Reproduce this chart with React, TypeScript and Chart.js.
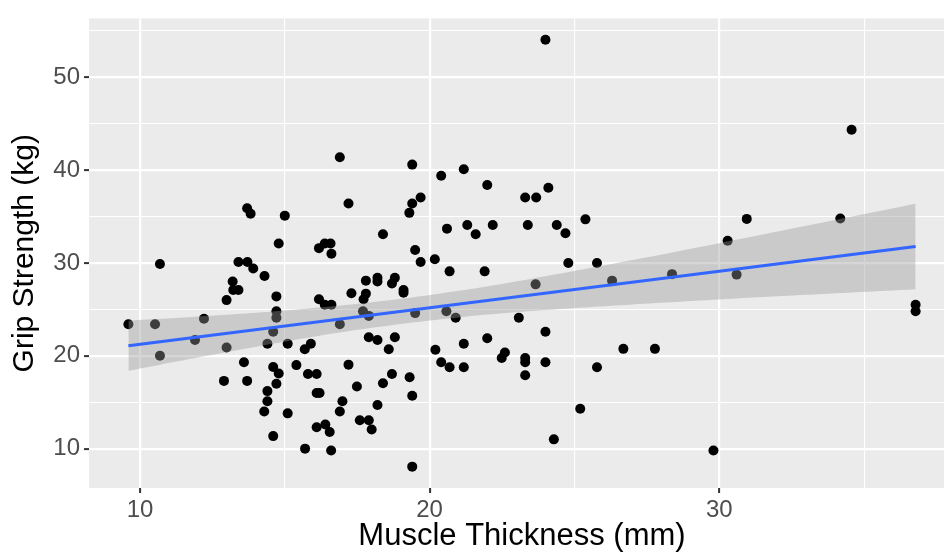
import React, { useEffect, useRef } from 'react';
import { Chart, registerables } from 'chart.js';

Chart.register(...registerables);

// Scatter data: muscle thickness (mm) vs grip strength (kg)
const muscleThickness = [
  9.6, 10.52, 10.69, 10.69, 11.9, 12.21, 12.9, 12.99, 12.99, 13.2,
  13.22, 13.4, 13.4, 13.59, 13.7, 13.71, 13.7, 13.82, 13.91, 14.29,
  14.3, 14.4, 14.4, 14.4, 14.6, 14.6, 14.6, 14.71, 14.71, 14.71,
  14.71, 14.79, 14.79, 15.0, 15.1, 15.1, 15.4, 15.69, 15.7, 15.8,
  15.9, 16.1, 16.1, 16.2, 16.1, 16.18, 16.38, 16.58, 16.61, 16.18,
  16.38, 16.61, 16.4, 16.55, 16.6,
  16.9, 16.9, 16.99, 16.9, 17.2, 17.2, 17.3, 17.49, 17.59, 17.7,
  17.72, 17.8, 17.8, 17.9, 17.9, 17.9, 18.0, 18.2, 18.2, 18.2,
  18.2, 18.39, 18.39, 18.59, 18.7, 18.8, 18.7, 18.8, 19.1, 19.1,
  19.3, 19.31, 19.4, 19.4, 19.4, 19.4, 19.5, 19.5, 19.69, 19.69,
  20.18, 20.2, 20.4, 20.4, 20.58, 20.6, 20.69, 20.69, 20.9, 21.18,
  21.18, 21.18, 21.3, 21.59, 21.9, 21.99, 21.99, 22.18, 22.49, 22.6,
  23.08, 23.3, 23.3, 23.3, 23.3, 23.39, 23.68, 23.66, 24.0, 24.0,
  24.0, 24.1, 24.29, 24.39, 24.69, 24.79, 25.2, 25.38, 25.78, 25.78,
  26.3, 26.69, 27.78, 28.37, 29.8, 30.29, 30.6, 30.95, 34.18, 34.57,
  36.78, 36.78,
];

const gripStrength = [
  23.4, 23.4, 29.9, 20.0, 21.7, 24.0, 17.3, 26.0, 20.9, 28.0,
  27.1, 27.1, 30.1, 19.3, 17.3, 30.1, 35.9, 35.3, 29.4, 14.0,
  28.6, 21.3, 16.2, 15.1, 22.6, 18.8, 11.35, 26.4, 24.8, 24.1,
  17.0, 32.1, 18.1, 35.1, 21.3, 13.8, 19.0, 20.7, 10.0, 18.05,
  21.3, 18.05, 16.0, 16.0, 12.3, 31.6, 32.1, 32.1, 31.0, 26.1,
  25.5, 25.5, 12.6, 11.8, 9.8,
  41.4, 23.4, 15.1, 14.0, 36.4, 19.05, 26.75, 16.7, 13.06, 24.8,
  26.1, 26.7, 28.1, 24.3, 22.0, 13.06, 12.06, 28.4, 28.0, 21.7,
  14.7, 33.1, 17.05, 20.7, 27.8, 28.4, 18.05, 22.0, 27.1, 26.8,
  35.4, 17.7, 40.6, 36.4, 15.7, 8.06, 31.4, 24.6, 37.05, 30.1,
  30.4, 20.65, 39.4, 19.3, 24.8, 33.7, 29.1, 18.76, 24.1, 40.1,
  21.3, 18.76, 34.1, 33.1, 29.1, 38.4, 21.9, 34.1, 19.76, 20.36,
  24.1, 37.05, 19.76, 19.3, 17.9, 34.1, 37.05, 27.7, 54.05, 22.6,
  19.3, 38.1, 11.0, 34.1, 33.2, 30.0, 14.3, 34.7, 30.0, 18.76,
  28.1, 20.75, 20.75, 28.8, 9.8, 32.4, 28.75, 34.75, 34.8, 44.35,
  25.5, 24.8,
];

// Fitted regression line
const fitX = [9.6, 36.78];
const fitY = [21.08, 31.78];

// Confidence band
const bandX = [9.6, 12, 15, 18, 21, 24, 27, 30, 33, 36.78];
const bandLower = [18.38, 19.82, 21.52, 23.02, 24.14, 24.93, 25.54, 26.08, 26.58, 27.18];
const bandUpper = [23.78, 24.23, 24.88, 25.76, 27.0, 28.58, 30.32, 32.14, 34.0, 36.38];

// Axes
const xTickValues = [10, 15, 20, 25, 30, 35];
const yTickValues = [10, 15, 20, 25, 30, 35, 40, 45, 50, 55];
const xLimits = [8.24, 38.14];
const yLimits = [5.76, 56.35];
const xTitle = 'Muscle Thickness (mm)';
const yTitle = 'Grip Strength (kg)';

const FONT = "'Liberation Sans', Arial, Helvetica, sans-serif";

const panelBackground = {
  id: 'panelBackground',
  beforeDraw(chart: any) {
    const { ctx, chartArea: a } = chart;
    ctx.save();
    ctx.fillStyle = '#EBEBEB';
    ctx.fillRect(a.left, a.top, a.right - a.left, a.bottom - a.top);
    ctx.restore();
  },
};

const isMajor = (v: number) => Math.abs(v % 10) < 1e-9;

export default function App() {
  const canvasRef = useRef<HTMLCanvasElement | null>(null);

  useEffect(() => {
    if (!canvasRef.current) return;
    const points = muscleThickness.map((x, i) => ({ x, y: gripStrength[i] }));
    const fit = fitX.map((x, i) => ({ x, y: fitY[i] }));
    const lower = bandX.map((x, i) => ({ x, y: bandLower[i] }));
    const upper = bandX.map((x, i) => ({ x, y: bandUpper[i] }));

    const gridCommon = {
      color: '#FFFFFF',
      lineWidth: (c: any) => (c.tick && isMajor(c.tick.value) ? 2.2 : 1.1),
      tickColor: (c: any) => (c.tick && isMajor(c.tick.value) ? '#333333' : 'rgba(0,0,0,0)'),
      tickLength: 5,
      tickWidth: 2,
    };

    const chart = new Chart(canvasRef.current, {
      type: 'scatter',
      data: {
        datasets: [
          {
            type: 'line',
            label: 'fit',
            data: fit,
            borderColor: '#3366FF',
            borderWidth: 3,
            pointRadius: 0,
            fill: false,
            order: 0,
          } as any,
          {
            type: 'line',
            label: 'lower',
            data: lower,
            borderWidth: 0,
            borderColor: 'rgba(0,0,0,0)',
            pointRadius: 0,
            fill: false,
            tension: 0.4,
            order: 1,
          } as any,
          {
            type: 'line',
            label: 'upper',
            data: upper,
            borderWidth: 0,
            borderColor: 'rgba(0,0,0,0)',
            backgroundColor: 'rgba(153,153,153,0.4)',
            pointRadius: 0,
            fill: '-1',
            tension: 0.4,
            order: 1,
          } as any,
          {
            type: 'scatter',
            label: 'points',
            data: points,
            backgroundColor: '#000000',
            borderWidth: 0,
            pointRadius: 5,
            order: 2,
          } as any,
        ],
      },
      options: {
        animation: false,
        responsive: false,
        devicePixelRatio: 1,
        layout: { padding: { top: 15, right: 4, left: 0, bottom: 0 } },
        plugins: {
          legend: { display: false },
          tooltip: { enabled: false },
        },
        scales: {
          x: {
            type: 'linear',
            min: xLimits[0],
            max: xLimits[1],
            afterBuildTicks: (axis: any) => {
              axis.ticks = xTickValues.map((v) => ({ value: v }));
            },
            afterFit: (scale: any) => {
              scale.height = 68;
            },
            border: { display: false },
            grid: gridCommon as any,
            ticks: {
              autoSkip: false,
              maxRotation: 0,
              padding: 3,
              color: '#4D4D4D',
              font: { family: FONT, size: 24 },
              callback: (v: any) => (isMajor(Number(v)) ? String(v) : ''),
            },
            title: {
              display: true,
              text: xTitle,
              color: '#000000',
              font: { family: FONT, size: 31 },
              padding: { top: 0, bottom: 1 },
            },
          },
          y: {
            type: 'linear',
            min: yLimits[0],
            max: yLimits[1],
            afterBuildTicks: (axis: any) => {
              axis.ticks = yTickValues.map((v) => ({ value: v }));
            },
            afterFit: (scale: any) => {
              scale.width = 89;
            },
            border: { display: false },
            grid: gridCommon as any,
            ticks: {
              autoSkip: false,
              padding: 4,
              color: '#4D4D4D',
              font: { family: FONT, size: 24 },
              callback: (v: any) => (isMajor(Number(v)) ? String(v) : ''),
            },
            title: {
              display: true,
              text: yTitle,
              color: '#000000',
              font: { family: FONT, size: 30 },
              padding: { top: 7, bottom: 0 },
            },
          },
        },
      } as any,
      plugins: [panelBackground],
    });

    return () => chart.destroy();
  }, []);

  return (
    <div
      style={{
        position: 'absolute',
        left: 0,
        top: 0,
        width: 944,
        height: 556,
        overflow: 'hidden',
        background: '#FFFFFF',
      }}
    >
      <canvas ref={canvasRef} width={960} height={556} style={{ display: 'block' }} />
    </div>
  );
}
